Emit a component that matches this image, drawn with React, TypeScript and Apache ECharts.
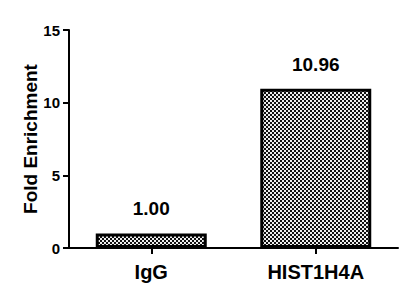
import React, { useEffect, useRef } from "react";
import * as echarts from "echarts";

const categories = ["IgG", "HIST1H4A"];
const values = [1.0, 10.96];
const valueLabels = ["1.00", "10.96"];
const yTicks = [0, 5, 10, 15];

function makePattern(): HTMLCanvasElement {
  const c = document.createElement("canvas");
  c.width = 4;
  c.height = 4;
  const ctx = c.getContext("2d")!;
  ctx.fillStyle = "#eeeeee";
  ctx.fillRect(0, 0, 4, 4);
  ctx.fillStyle = "#111111";
  ctx.fillRect(0, 0, 2, 2);
  ctx.fillRect(2, 2, 2, 2);
  return c;
}

export default function App() {
  const ref = useRef<HTMLDivElement>(null);
  useEffect(() => {
    if (!ref.current) return;
    const chart = echarts.init(ref.current, undefined, { renderer: "svg" });
    const font = "'Liberation Sans', Arial, sans-serif";
    const pattern = makePattern();
    chart.setOption({
      animation: false,
      backgroundColor: "#ffffff",
      grid: { left: 69, right: 11, top: 30, bottom: 52, containLabel: false },
      xAxis: {
        type: "category",
        data: categories,
        axisLine: { show: true, lineStyle: { color: "#000", width: 2 } },
        axisTick: { show: true, alignWithLabel: true, length: 6, lineStyle: { color: "#000", width: 2 } },
        axisLabel: { color: "#000", fontFamily: font, fontWeight: "bold", fontSize: 20, margin: 14 },
        splitLine: { show: false },
      },
      yAxis: {
        type: "value",
        min: yTicks[0],
        max: yTicks[yTicks.length - 1],
        interval: 5,
        name: "Fold Enrichment",
        nameLocation: "middle",
        nameGap: 29,
        nameMoveOverlap: false,
        nameTextStyle: { color: "#000", fontFamily: font, fontWeight: "bold", fontSize: 19 },
        axisLine: { show: true, lineStyle: { color: "#000", width: 2 } },
        axisTick: { show: true, length: 6, lineStyle: { color: "#000", width: 2 } },
        axisLabel: { color: "#000", fontFamily: font, fontWeight: "bold", fontSize: 15, margin: 9 },
        splitLine: { show: false },
      },
      series: [
        {
          type: "bar",
          data: values,
          barWidth: 111,
          itemStyle: {
            color: { image: pattern, repeat: "repeat" },
            borderColor: "#000",
            borderWidth: 3,
          },
          label: {
            show: true,
            position: "top",
            distance: 15,
            color: "#000",
            fontFamily: font,
            fontWeight: "bold",
            fontSize: 19,
            formatter: (p: any) => valueLabels[p.dataIndex],
          },
        },
      ],
    });
    return () => chart.dispose();
  }, []);
  return <div ref={ref} style={{ width: 409, height: 300, margin: -8 }} />;
}
